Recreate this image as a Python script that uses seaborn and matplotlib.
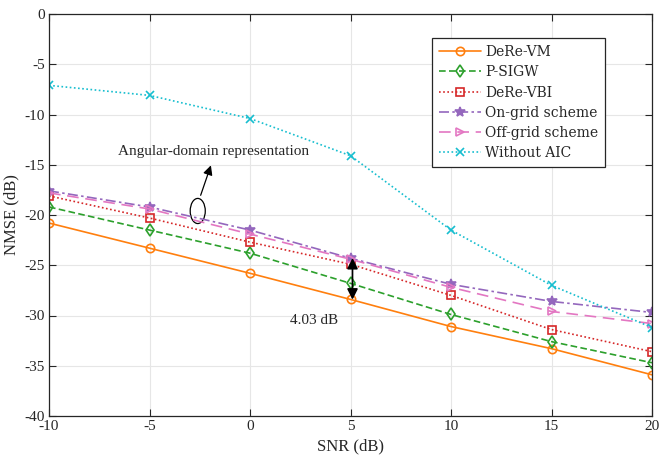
import numpy as np
import pandas as pd
import matplotlib
matplotlib.use("Agg")
import matplotlib.pyplot as plt
import seaborn as sns
from matplotlib.patches import Ellipse

snr = [-10, -5, 0, 5, 10, 15, 20]
dere_vm = [-20.8, -23.3, -25.8, -28.4, -31.1, -33.3, -35.9]
p_sigw = [-19.2, -21.5, -23.8, -26.8, -29.9, -32.6, -34.7]
dere_vbi = [-18.1, -20.3, -22.7, -24.9, -28.0, -31.4, -33.6]
on_grid = [-17.6, -19.2, -21.5, -24.3, -26.9, -28.6, -29.7]
off_grid = [-17.8, -19.4, -21.9, -24.4, -27.2, -29.6, -30.8]
without_aic = [-7.1, -8.1, -10.4, -14.1, -21.5, -27.0, -31.2]

names = ["DeRe-VM", "P-SIGW", "DeRe-VBI", "On-grid scheme", "Off-grid scheme", "Without AIC"]
series = [dere_vm, p_sigw, dere_vbi, on_grid, off_grid, without_aic]
colors = ["#ff7f0e", "#2ca02c", "#d62728", "#9467bd", "#e377c2", "#17becf"]
markers = ["o", "d", "s", "*", ">", "x"]
dashes = ["-", (0, (4, 2)), (0, (1, 1.5)), (0, (6, 2, 1.5, 2)), (0, (7, 4)), (0, (1, 1.5))]

sns.set_theme(style="whitegrid")
plt.rcParams["font.family"] = ["Liberation Serif", "DejaVu Serif"]

fig = plt.figure(figsize=(6.61, 4.59), dpi=100)
ax = fig.add_axes([49 / 661, 1 - 416 / 459, 603 / 661, 402 / 459])

for name, vals, c, m, ls in zip(names, series, colors, markers, dashes):
    df = pd.DataFrame({"SNR": snr, "NMSE": vals})
    sns.lineplot(data=df, x="SNR", y="NMSE", ax=ax, color=c, linewidth=1.2,
                 label=name, legend=False)
    line = ax.lines[-1]
    line.set_linestyle(ls)
    line.set_marker(m)
    line.set_markersize(6 if m != "*" else 7.5)
    if m in ("x", "*"):
        line.set_markerfacecolor(c)
    else:
        line.set_markerfacecolor("none")
    line.set_markeredgecolor(c)
    line.set_markeredgewidth(1.2)

ax.set_xlim(-10, 20)
ax.set_ylim(-40, 0)
ax.set_xticks(snr)
ax.set_yticks(np.arange(-40, 1, 5))
ax.set_xticklabels(["-10", "-5", "0", "5", "10", "15", "20"])
ax.set_yticklabels([str(v) for v in range(-40, 1, 5)])
ax.set_xlabel("SNR (dB)", fontsize=12)
ax.set_ylabel("NMSE (dB)", fontsize=12)
ax.set_facecolor("white")
ax.grid(True, color="#e6e6e6", linewidth=0.8)
for s in ax.spines.values():
    s.set_visible(True)
    s.set_color("#262626")
    s.set_linewidth(0.9)
ax.tick_params(axis="both", direction="in", length=5, width=0.8, colors="#262626",
               labelsize=11, top=True, right=True, bottom=True, left=True, pad=3)
for lab in ax.get_xticklabels() + ax.get_yticklabels():
    lab.set_color("#262626")

leg = ax.legend(loc="upper right", bbox_to_anchor=(0.922, 0.940), frameon=True,
                fancybox=False, edgecolor="#262626", framealpha=1,
                prop={"family": "DejaVu Serif", "size": 10}, handlelength=3.0,
                labelspacing=0.45, borderpad=0.5, handletextpad=0.3,
                borderaxespad=0)
leg.get_frame().set_linewidth(0.9)

# Annotations
ell = Ellipse((-2.6, -19.6), 0.75, 2.5, fill=False, edgecolor="black", linewidth=0.9)
ax.add_patch(ell)
ax.annotate("", xy=(-1.9, -14.8), xytext=(-2.5, -18.3),
            arrowprops=dict(arrowstyle="-|>", color="black", lw=0.9, mutation_scale=14))
ax.text(-1.8, -13.7, "Angular-domain representation", fontsize=11, ha="center", va="center")
ax.annotate("", xy=(5.1, -24.0), xytext=(5.1, -28.7),
            arrowprops=dict(arrowstyle="<|-|>", color="black", lw=1.2, mutation_scale=16))
ax.text(3.2, -30.5, "4.03 dB", fontsize=11, ha="center", va="center")

fig.savefig("out.png", dpi=100)
